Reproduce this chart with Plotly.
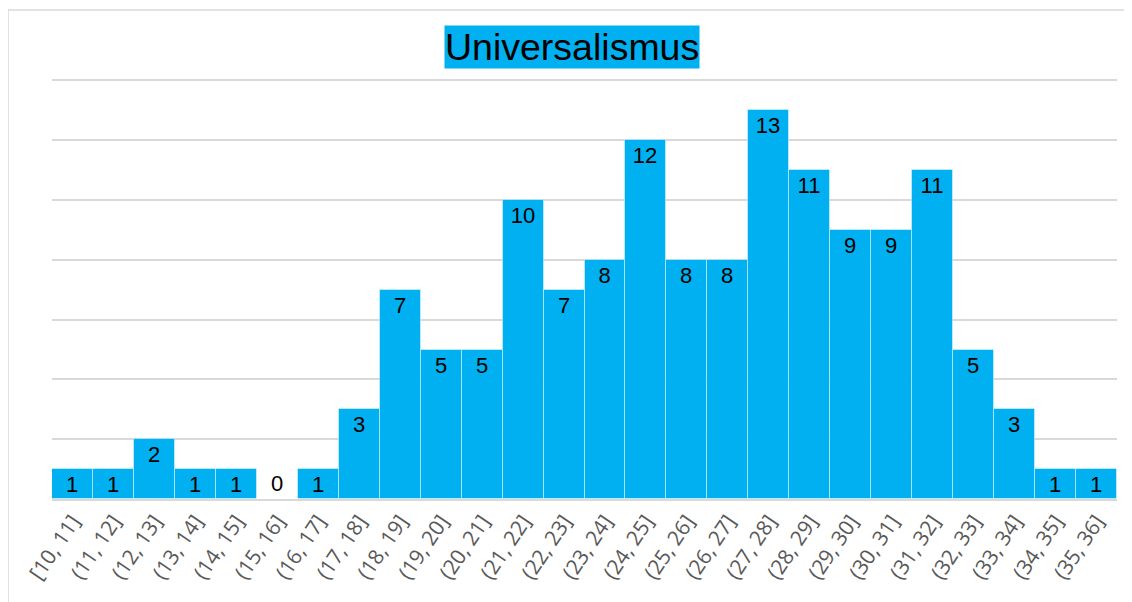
import plotly.graph_objects as go

categories = ["[10, 11]", "(11, 12]", "(12, 13]", "(13, 14]", "(14, 15]", "(15, 16]",
              "(16, 17]", "(17, 18]", "(18, 19]", "(19, 20]", "(20, 21]", "(21, 22]",
              "(22, 23]", "(23, 24]", "(24, 25]", "(25, 26]", "(26, 27]", "(27, 28]",
              "(28, 29]", "(29, 30]", "(30, 31]", "(31, 32]", "(32, 33]", "(33, 34]",
              "(34, 35]", "(35, 36]"]
counts = [1, 1, 2, 1, 1, 0, 1, 3, 7, 5, 5, 10, 7, 8, 12, 8, 8, 13, 11, 9, 9, 11, 5, 3, 1, 1]

positions = ["outside" if v == 0 else "inside" for v in counts]

fig = go.Figure(go.Bar(
    x=categories, y=counts,
    text=[str(v) for v in counts],
    textposition=positions,
    insidetextanchor="end",
    textangle=0,
    constraintext="none",
    textfont=dict(family="Liberation Sans, Arial, sans-serif", size=22, color="#000000"),
    marker=dict(color="#00B0F0", line=dict(color="rgba(255,255,255,0.45)", width=1)),
    cliponaxis=False,
))

fig.update_layout(
    width=1132, height=602,
    margin=dict(l=44, r=23, t=71, b=111),
    paper_bgcolor="white", plot_bgcolor="white",
    bargap=0,
    showlegend=False,
    xaxis=dict(tickangle=-56, tickfont=dict(family="Open Sans, Liberation Sans, sans-serif", size=21, color="#595959"),
               showgrid=False, showline=True, linecolor="#d9d9d9", linewidth=1.5, ticks=""),
    yaxis=dict(range=[0, 14.05], dtick=2, showticklabels=False, showgrid=True,
               gridcolor="#d9d9d9", gridwidth=1.5, zeroline=False, ticks=""),
    annotations=[dict(
        text="Universalismus", xref="paper", yref="paper", x=0.5, y=1, yshift=32, xshift=-13,
        xanchor="center", yanchor="middle", showarrow=False,
        font=dict(family="Liberation Sans, Arial, sans-serif", size=37.5, color="#000000"),
        bgcolor="#00B0F0", borderpad=0,
    )],
    shapes=[dict(type="rect", xref="paper", yref="paper",
                 x0=-44/1065, x1=1.05, y0=-0.4, y1=1 + 69/420,
                 line=dict(color="#d9d9d9", width=1.5), fillcolor="rgba(0,0,0,0)")],
)

fig.write_html("out.html")
